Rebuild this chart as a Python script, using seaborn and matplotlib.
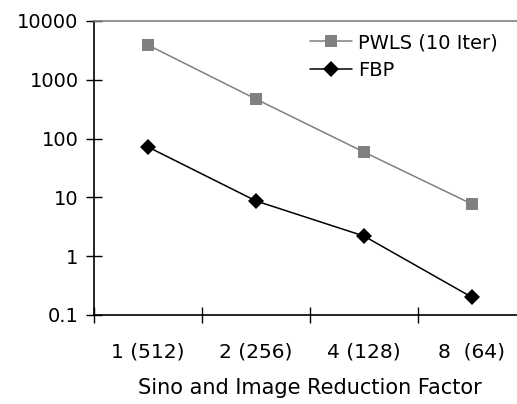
import pandas as pd
import numpy as np
import matplotlib
matplotlib.use("Agg")
import matplotlib.pyplot as plt
import seaborn as sns
from matplotlib.ticker import FixedLocator, NullLocator

# datos
factores = ["1 (512)", "2 (256)", "4 (128)", "8  (64)"]
pwls = [3900, 470, 59, 7.7]
fbp = [72, 8.7, 2.2, 0.2]
series = ["PWLS (10 Iter)", "FBP"]

datos = pd.DataFrame({
    "factor": factores * 2,
    "valor": pwls + fbp,
    "metodo": [series[0]] * 4 + [series[1]] * 4,
})
datos["pos"] = np.tile(np.arange(len(factores)), 2)

sns.set_style("white")
plt.rcParams["font.family"] = ["DejaVu Sans"]
plt.rcParams["text.color"] = "black"
plt.rcParams["xtick.color"] = "black"
plt.rcParams["ytick.color"] = "black"
plt.rcParams["axes.labelcolor"] = "black"

fig = plt.figure(figsize=(5.17, 4.04), dpi=100)
ax = fig.add_axes([94 / 517, 89 / 404, 432 / 517, 294 / 404])

sns.lineplot(data=datos, x="pos", y="valor", hue="metodo", style="metodo",
             palette={series[0]: "#808080", series[1]: "black"},
             markers={series[0]: "s", series[1]: "D"},
             dashes=False, markersize=8, linewidth=1.1,
             markeredgewidth=0, ax=ax)

ax.set_yscale("log")
ax.set_ylim(0.1, 10000)
ax.set_xlim(-0.5, len(factores) - 0.5)
ax.yaxis.set_major_locator(FixedLocator([0.1, 1, 10, 100, 1000, 10000]))
ax.yaxis.set_minor_locator(NullLocator())
ax.set_yticklabels(["0.1", "1", "10", "100", "1000", "10000"])

ax.set_xticks(range(len(factores)))
ax.set_xticklabels(factores)
ax.set_xticks(np.arange(len(factores)) - 0.5, minor=True)
ax.tick_params(axis="x", which="major", bottom=False, length=0, pad=20, labelsize=14.5)
ax.tick_params(axis="x", which="minor", bottom=True, direction="inout", length=12,
               width=1, color="black")
ax.tick_params(axis="y", which="major", left=True, direction="inout", length=12, width=1,
               color="black", labelsize=14, pad=5)

ax.set_xlabel("Sino and Image Reduction Factor", fontsize=15, labelpad=12)
ax.set_ylabel("")

for lado in ["left", "bottom"]:
    ax.spines[lado].set_color("black")
    ax.spines[lado].set_linewidth(1.2)
ax.spines["top"].set_color("#808080")
ax.spines["top"].set_linewidth(1.2)
ax.spines["right"].set_visible(False)

ax.legend(loc="upper left", bbox_to_anchor=(0.481, 0.985), frameon=False,
          fontsize=14, handlelength=2.2, handletextpad=0.3, labelspacing=0.45,
          borderaxespad=0)

fig.savefig("out.png", dpi=100)
